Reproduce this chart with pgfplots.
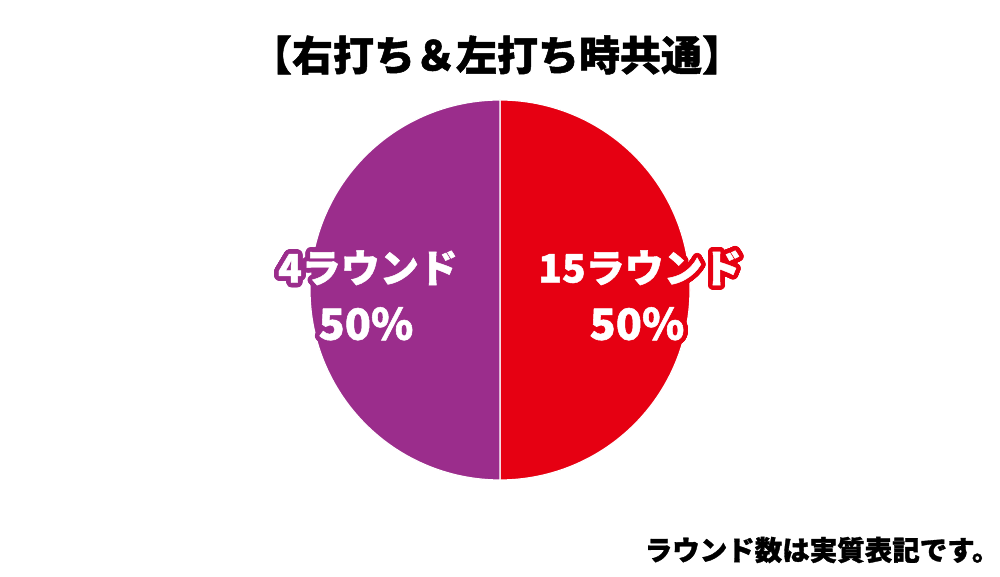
\documentclass[border=0pt]{standalone}
\usepackage{fontspec}
\usepackage{pgfplots}
\usepackage{pgfplotstable}
\usepackage{contour}
\pgfplotsset{compat=1.18}
\newfontfamily\cjk{Noto Sans CJK JP}[BoldFeatures={FakeBold=1.2}]
\definecolor{redslice}{RGB}{230,0,18}
\definecolor{purpleslice}{RGB}{155,45,140}
\contournumber{48}
\pgfplotstableread{
label value
15 50
4 50
}\pietable
\pgfplotstablegetelem{0}{value}\of\pietable \let\va\pgfplotsretval
\pgfplotstablegetelem{1}{value}\of\pietable \let\vb\pgfplotsretval
\pgfmathsetmacro{\aend}{90-3.6*\va}
\pgfmathsetmacro{\bend}{\aend-3.6*\vb}
\begin{document}
\begin{tikzpicture}
\path[use as bounding box] (0,0) rectangle (1000pt,577pt);
\begin{axis}[
  at={(0,0)}, anchor=south west,
  scale only axis, width=1000pt, height=577pt,
  xmin=0, xmax=1000, ymin=0, ymax=577,
  hide axis, clip=false,
]
% 15 round slice (clockwise from top)
\addplot[fill=redslice, draw=white, line width=1.2pt, domain=\aend:90, samples=181]
  ({500+190*cos(x)},{287+190*sin(x)}) -- (axis cs:500,287) -- cycle;
% 4 round slice
\addplot[fill=purpleslice, draw=white, line width=1.2pt, domain=\bend:\aend, samples=181]
  ({500+190*cos(x)},{287+190*sin(x)}) -- (axis cs:500,287) -- cycle;

\node[font=\cjk\bfseries\fontsize{41}{46}\selectfont] at (axis cs:497,522) {【右打ち＆左打ち時共通】};
\node[font=\cjk\bfseries\fontsize{27.5}{30}\selectfont, anchor=east] at (axis cs:1003,27) {ラウンド数は実質表記です。};

\contourlength{4.5pt}
\node[font=\cjk\bfseries\fontsize{39}{44}\selectfont, text=white] at (axis cs:640,307) {\contour{redslice}{15ラウンド}};
\node[font=\cjk\bfseries\fontsize{43}{48}\selectfont, text=white] at (axis cs:637,251) {\contour{redslice}{50\%}};
\node[font=\cjk\bfseries\fontsize{39}{44}\selectfont, text=white] at (axis cs:368,307) {\contour{purpleslice}{4ラウンド}};
\node[font=\cjk\bfseries\fontsize{43}{48}\selectfont, text=white] at (axis cs:366,251) {\contour{purpleslice}{50\%}};
\end{axis}
\end{tikzpicture}
\end{document}
